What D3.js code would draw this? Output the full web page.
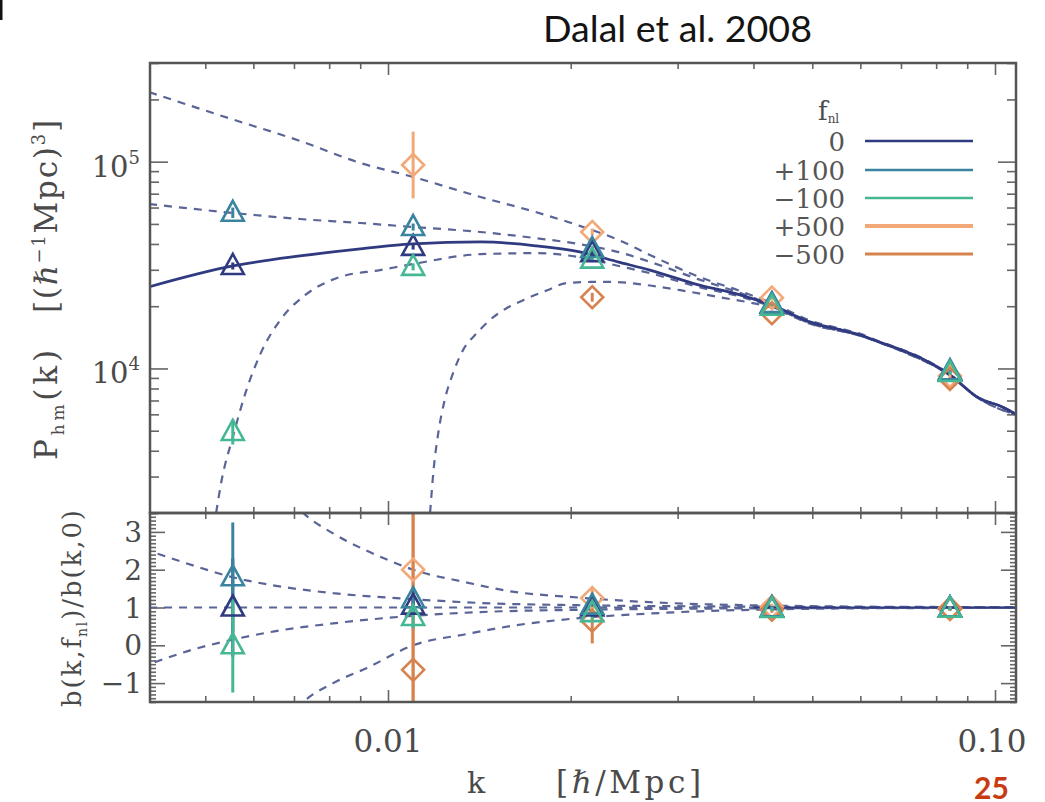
<!DOCTYPE html>
<html>
<head>
<meta charset="utf-8">
<script src="https://cdn.jsdelivr.net/npm/d3@7"></script>
<style>
  body { margin: 0; background: #fff; }
  svg { display: block; }
</style>
</head>
<body>
<div class="chart"></div>
<script>
// ---- data ----
const kBins = [0.00555, 0.0110, 0.0217, 0.0429, 0.0843];
const fnlLabels = ['0', '+100', '\u2212100', '+500', '\u2212500'];

// measured P_hm(k) per f_NL (null = off the plot)
const pkF0   = [31300, 38700, 36100, 20300, 9600];
const pkP100 = [56600, 48300, 37800, 20500, 9700];
const pkM100 = [4930, 31000, 33600, 19900, 9500];
const pkP500 = [null, 96400, 45700, 22000, 9200];
const pkM500 = [null, null, 22100, 18500, 8900];
// multiplicative error factors
const pkErrF0   = [1.04, 1.03, 1.03, 1.02, 1.02];
const pkErrP100 = [1.06, 1.04, 1.03, 1.02, 1.02];
const pkErrM100 = [1.15, 1.04, 1.03, 1.02, 1.02];
const pkErrP500 = [null, 1.45, 1.04, 1.03, 1.02];
const pkErrM500 = [null, null, 1.05, 1.03, 1.02];

// bias ratio b(k,f)/b(k,0)
const bF0   = [1.0, 1.05, 1.0, 0.98, 0.98];
const bP100 = [1.8, 1.22, 1.05, 0.98, 0.97];
const bM100 = [0.0, 0.75, 0.85, 0.96, 0.97];
const bP500 = [null, 2.0, 1.25, 1.02, 0.98];
const bM500 = [null, -0.65, 0.65, 0.94, 0.96];
const bErrF0   = [1.3, 0.25, 0.12, 0.05, 0.04];
const bErrP100 = [1.45, 0.3, 0.15, 0.05, 0.04];
const bErrM100 = [1.25, 0.3, 0.15, 0.05, 0.04];
const bErrP500 = [null, 4.5, 0.25, 0.08, 0.05];
const bErrM500 = [null, 4.5, 0.6, 0.08, 0.05];

// model curves
const kModel = [0.00404, 0.00555, 0.00716, 0.0090, 0.0110, 0.0142, 0.0175, 0.0207, 0.0240, 0.0270, 0.0326, 0.0380,
  0.0429, 0.0500, 0.0560, 0.0600, 0.0645, 0.0700, 0.0760, 0.0843, 0.0940, 0.1030, 0.1090];
const pkModelF0 = [24800, 31300, 35000, 37900, 40000, 40900, 39200, 36600, 32700, 29900, 25300, 22700,
  20200, 16600, 15300, 14500, 13400, 12300, 11100, 9300, 7190, 6500, 5940];
const pkModelP500 = [217000, 160000, 126000, 98600, 84300, 67500, 57100, 48900, 41800, 35400, 27700, 23700,
  20700, 16900, 15500, 14700, 13500, 12400, 11200, 9350, 7220, 6520, 5960];
const pkModelP100 = [62400, 56500, 52800, 50500, 48300, 45700, 42700, 39900, 36500, 32800, 26900, 23200,
  20300, 16700, 15350, 14550, 13350, 12300, 11100, 9300, 7190, 6500, 5940];
const kModelM100 = [0.00521, 0.00532, 0.00555, 0.00581, 0.00615, 0.00664, 0.0073, 0.00834, 0.0097, 0.0110, 0.0142,
  0.0175, 0.0207, 0.0240, 0.0270, 0.0326, 0.0380, 0.0429, 0.0500, 0.0600, 0.0700, 0.0843, 0.0940, 0.1090];
const pkModelM100 = [2000, 2880, 4650, 7450, 11600, 17100, 22600, 27700, 29900, 32000, 35700,
  36100, 34500, 31300, 28900, 24700, 22300, 19900, 16400, 14400, 12200, 9250, 7170, 5930];
const kModelM500 = [0.01173, 0.0119, 0.0121, 0.0124, 0.0128, 0.0133, 0.0140, 0.0147, 0.0157, 0.0167, 0.0183, 0.0197,
  0.0217, 0.0235, 0.0267, 0.0303, 0.0352, 0.0429, 0.0500, 0.0600, 0.0700, 0.0843, 0.0940, 0.1090];
const pkModelM500 = [2000, 3330, 4870, 7040, 9500, 12300, 14800, 17100, 19600, 21400, 23900, 25900,
  26200, 26200, 25300, 23900, 22100, 19600, 16300, 14400, 12150, 9250, 7170, 5930];

const kRatioP500 = [0.00700, 0.00725, 0.00812, 0.00923, 0.0102, 0.0110, 0.0135, 0.0156, 0.0207, 0.0270, 0.0326, 0.0429, 0.0645, 0.1090];
const bModelP500 = [3.75, 3.5, 2.96, 2.5, 2.2, 2.0, 1.66, 1.45, 1.26, 1.14, 1.09, 1.05, 1.02, 1.01];
const kRatio100 = [0.00404, 0.0048, 0.00555, 0.0065, 0.00812, 0.0110, 0.0142, 0.0207, 0.0326, 0.0645, 0.1090];
const bModelP100 = [2.5, 2.1, 1.8, 1.58, 1.38, 1.22, 1.12, 1.06, 1.03, 1.01, 1.0];
const bModelM100 = [-0.5, -0.1, 0.15, 0.37, 0.58, 0.78, 0.88, 0.94, 0.97, 0.99, 1.0];
const kRatioM500 = [0.00700, 0.00725, 0.00812, 0.00923, 0.0110, 0.0135, 0.0161, 0.0207, 0.0270, 0.0326, 0.0429, 0.0645, 0.1090];
const bModelM500 = [-1.75, -1.5, -1.0, -0.6, 0.0, 0.3, 0.52, 0.72, 0.84, 0.9, 0.95, 0.98, 0.99];
const kRatioF0 = [0.00404, 0.1090];
const bModelF0 = [1, 1];
const kRatioF0Solid = [0.040, 0.1090];

// ---- layout ----
const frameLeft = 150, frameRight = 1016;
const topY = 63, splitY = 513, bottomY = 702;

const navy = '#2f3a80', teal = '#3b84a0', green = '#45b795';
const lightOrange = '#f3a878', darkOrange = '#d7834f';
const dashColor = '#5a6496', frameColor = '#555', textColor = '#4a4a4a';
const serif = '"DejaVu Serif", "Liberation Serif", serif';

const series = [
  { label: fnlLabels[3], color: lightOrange, shape: 'diamond', pk: pkP500, pkErr: pkErrP500, b: bP500, bErr: bErrP500, lw: 4 },
  { label: fnlLabels[4], color: darkOrange, shape: 'diamond', pk: pkM500, pkErr: pkErrM500, b: bM500, bErr: bErrM500, lw: 3 },
  { label: fnlLabels[0], color: navy, shape: 'triangle', pk: pkF0, pkErr: pkErrF0, b: bF0, bErr: bErrF0, lw: 2.5 },
  { label: fnlLabels[1], color: teal, shape: 'triangle', pk: pkP100, pkErr: pkErrP100, b: bP100, bErr: bErrP100, lw: 2.5 },
  { label: fnlLabels[2], color: green, shape: 'triangle', pk: pkM100, pkErr: pkErrM100, b: bM100, bErr: bErrM100, lw: 2.5 }
];

const svg = d3.select('.chart').append('svg')
  .attr('width', 1045)
  .attr('height', 802);

// scales: 0.01 -> 388px, 0.1 -> 995px, frame spans a bit more
const xAnchor = d3.scaleLog().domain([0.01, 0.1]).range([388, 995]);
const x = d3.scaleLog()
  .domain([xAnchor.invert(frameLeft), xAnchor.invert(frameRight)])
  .range([frameLeft, frameRight]);
const yTop = d3.scaleLog().domain([2000, 3e5]).range([splitY, topY]);
const yBot = d3.scaleLinear().domain([-1.5, 3.5]).range([bottomY, splitY]);

// clip paths
const defs = svg.append('defs');
defs.append('clipPath').attr('id', 'clipTop').append('rect')
  .attr('x', frameLeft).attr('y', topY).attr('width', frameRight - frameLeft).attr('height', splitY - topY);
defs.append('clipPath').attr('id', 'clipBot').append('rect')
  .attr('x', frameLeft).attr('y', splitY).attr('width', frameRight - frameLeft).attr('height', bottomY - splitY);

// ---- ticks ----
function tickAxis(axis, transform, vals, size) {
  const g = svg.append('g').attr('transform', transform);
  g.call(axis.tickValues(vals).tickSize(size).tickFormat(''));
  g.select('.domain').remove();
  g.selectAll('line').attr('stroke', '#666').attr('stroke-width', 1.6);
  return g;
}

const xMajor = [0.01, 0.1];
const xMinor = x.ticks().filter(v => !xMajor.some(m => Math.abs(m - v) < 1e-9));
const yTopMajor = [1e4, 1e5];
const yTopMinor = yTop.ticks().filter(v => !yTopMajor.includes(v));
const yBotMajor = [-1, 0, 1, 2, 3];
const yBotMinor = yBot.ticks(50).filter(v => Math.abs(v - Math.round(v)) > 1e-6);

[[xMajor, 12], [xMinor, 6]].forEach(([vals, s]) => {
  tickAxis(d3.axisBottom(x), `translate(0,${topY})`, vals, s);
  tickAxis(d3.axisTop(x), `translate(0,${splitY})`, vals, s);
  tickAxis(d3.axisBottom(x), `translate(0,${splitY})`, vals, s);
  tickAxis(d3.axisTop(x), `translate(0,${bottomY})`, vals, s);
});
[[yTopMajor, 18], [yTopMinor, 9]].forEach(([vals, s]) => {
  tickAxis(d3.axisRight(yTop), `translate(${frameLeft},0)`, vals, s);
  tickAxis(d3.axisLeft(yTop), `translate(${frameRight},0)`, vals, s);
});
[[yBotMajor, 15], [yBotMinor, 6]].forEach(([vals, s]) => {
  tickAxis(d3.axisRight(yBot), `translate(${frameLeft},0)`, vals, s);
  tickAxis(d3.axisLeft(yBot), `translate(${frameRight},0)`, vals, s);
});

// ---- model curves ----
const lineTop = d3.line().x(d => x(d[0])).y(d => yTop(d[1])).curve(d3.curveMonotoneX);
const lineBot = d3.line().x(d => x(d[0])).y(d => yBot(d[1])).curve(d3.curveMonotoneX);

const gTop = svg.append('g').attr('clip-path', 'url(#clipTop)');
const gBot = svg.append('g').attr('clip-path', 'url(#clipBot)');

const dashedTop = [
  [kModel, pkModelP500], [kModel, pkModelP100], [kModelM100, pkModelM100], [kModelM500, pkModelM500]
];
dashedTop.forEach(([ks, vs]) => {
  gTop.append('path')
    .datum(d3.zip(ks, vs))
    .attr('d', lineTop)
    .attr('fill', 'none')
    .attr('stroke', dashColor)
    .attr('stroke-width', 2.2)
    .attr('stroke-dasharray', '8,7');
});
gTop.append('path')
  .datum(d3.zip(kModel, pkModelF0))
  .attr('d', lineTop)
  .attr('fill', 'none')
  .attr('stroke', navy)
  .attr('stroke-width', 2.8);

const dashedBot = [
  [kRatioF0, bModelF0], [kRatioP500, bModelP500], [kRatio100, bModelP100], [kRatio100, bModelM100], [kRatioM500, bModelM500]
];
dashedBot.forEach(([ks, vs], i) => {
  gBot.append('path')
    .datum(d3.zip(ks, vs))
    .attr('d', lineBot)
    .attr('fill', 'none')
    .attr('stroke', dashColor)
    .attr('stroke-width', 2.2)
    .attr('stroke-dasharray', '8,7')
    .attr('stroke-dashoffset', i * 3);
});
gBot.append('path')
  .datum(kRatioF0Solid.map(k => [k, 1]))
  .attr('d', lineBot)
  .attr('fill', 'none')
  .attr('stroke', navy)
  .attr('stroke-width', 2.2);

// ---- points ----
const shapes = {
  triangle: 'M0,-12L11,8L-11,8Z',
  diamond: 'M0,-11L11,0L0,11L-11,0Z'
};

series.forEach(s => {
  kBins.forEach((k, i) => {
    if (s.pk[i] != null) {
      const f = s.pkErr[i];
      gTop.append('line')
        .attr('x1', x(k)).attr('x2', x(k))
        .attr('y1', yTop(s.pk[i] / f)).attr('y2', yTop(s.pk[i] * f))
        .attr('stroke', s.color).attr('stroke-width', 3);
    }
    if (s.b[i] != null) {
      gBot.append('line')
        .attr('x1', x(k)).attr('x2', x(k))
        .attr('y1', yBot(s.b[i] - s.bErr[i])).attr('y2', yBot(s.b[i] + s.bErr[i]))
        .attr('stroke', s.color).attr('stroke-width', 3);
    }
  });
});
series.forEach(s => {
  kBins.forEach((k, i) => {
    if (s.pk[i] != null) {
      gTop.append('path')
        .attr('d', shapes[s.shape])
        .attr('transform', `translate(${x(k)},${yTop(s.pk[i])})`)
        .attr('fill', 'none').attr('stroke', s.color).attr('stroke-width', 2.6);
    }
    if (s.b[i] != null) {
      gBot.append('path')
        .attr('d', shapes[s.shape])
        .attr('transform', `translate(${x(k)},${yBot(s.b[i])})`)
        .attr('fill', 'none').attr('stroke', s.color).attr('stroke-width', 2.6);
    }
  });
});

// ---- frames ----
[[topY, splitY], [splitY, bottomY]].forEach(([a, b]) => {
  svg.append('rect')
    .attr('x', frameLeft).attr('y', a)
    .attr('width', frameRight - frameLeft).attr('height', b - a)
    .attr('fill', 'none').attr('stroke', frameColor).attr('stroke-width', 2.5);
});

// ---- tick labels ----
yTopMajor.forEach(v => {
  const t = svg.append('text')
    .attr('x', 140).attr('y', yTop(v) + 15)
    .attr('text-anchor', 'end')
    .attr('font-family', serif).attr('font-size', 29).attr('fill', textColor);
  t.append('tspan').text('10');
  t.append('tspan').attr('dy', -13).attr('font-size', 18).text(Math.round(Math.log10(v)));
});
yBotMajor.forEach(v => {
  svg.append('text')
    .attr('x', 142).attr('y', yBot(v) + 10)
    .attr('text-anchor', 'end')
    .attr('font-family', serif).attr('font-size', 28).attr('fill', textColor)
    .text(v < 0 ? '\u2212' + Math.abs(v) : v);
});
const xTickLabels = ['0.01', '0.10'];
xMajor.forEach((v, i) => {
  svg.append('text')
    .attr('x', x(v) - (i === 1 ? 3 : 0)).attr('y', 752)
    .attr('text-anchor', 'middle')
    .attr('font-family', serif).attr('font-size', 31).attr('fill', textColor)
    .text(xTickLabels[i]);
});

// ---- axis titles ----
svg.append('text')
  .attr('x', 467).attr('y', 793)
  .attr('font-family', serif).attr('font-size', 30).attr('fill', textColor)
  .text('k');
svg.append('text')
  .attr('x', 556).attr('y', 793)
  .attr('font-family', serif).attr('font-size', 31).attr('fill', textColor)
  .attr('textLength', 145).attr('lengthAdjust', 'spacing')
  .text('[\u210F/Mpc]');

const yl1 = svg.append('text')
  .attr('transform', 'translate(57,460) rotate(-90)')
  .attr('font-family', serif).attr('font-size', 31).attr('fill', textColor)
  .attr('textLength', 110).attr('lengthAdjust', 'spacing');
yl1.append('tspan').text('P');
yl1.append('tspan').attr('font-size', 17).attr('dy', 7).text('hm');
yl1.append('tspan').attr('dy', -7).text('(k)');

const yl2 = svg.append('text')
  .attr('transform', 'translate(57,313) rotate(-90)')
  .attr('font-family', serif).attr('font-size', 31).attr('fill', textColor)
  .attr('textLength', 193).attr('lengthAdjust', 'spacing');
yl2.append('tspan').text('[(');
yl2.append('tspan').attr('font-style', 'italic').text('\u210F');
yl2.append('tspan').attr('font-size', 18).attr('dy', -12).text('\u22121');
yl2.append('tspan').attr('dy', 12).text('Mpc)');
yl2.append('tspan').attr('font-size', 18).attr('dy', -12).text('3');
yl2.append('tspan').attr('dy', 12).text(']');

const yl3 = svg.append('text')
  .attr('transform', 'translate(81,707) rotate(-90)')
  .attr('font-family', serif).attr('font-size', 26).attr('fill', textColor)
  .attr('textLength', 197).attr('lengthAdjust', 'spacing');
yl3.append('tspan').text('b(k,f');
yl3.append('tspan').attr('font-size', 14).attr('dy', 6).text('nl');
yl3.append('tspan').attr('dy', -6).text(')/b(k,0)');

// ---- legend ----
const legendY = [141, 170, 198, 226, 254];
const legendOrder = [2, 3, 4, 0, 1];
const fl = svg.append('text')
  .attr('x', 818).attr('y', 120)
  .attr('font-family', serif).attr('font-size', 26).attr('fill', textColor);
fl.append('tspan').text('f');
fl.append('tspan').attr('font-size', 12).attr('dy', 3).text('nl');
legendOrder.forEach((si, j) => {
  const s = series[si];
  svg.append('text')
    .attr('x', 845).attr('y', legendY[j] + 10)
    .attr('text-anchor', 'end')
    .attr('font-family', serif).attr('font-size', 26).attr('fill', '#555')
    .text(s.label);
  svg.append('line')
    .attr('x1', 865).attr('x2', 973)
    .attr('y1', legendY[j]).attr('y2', legendY[j])
    .attr('stroke', s.color).attr('stroke-width', s.lw);
});

// ---- slide text ----
svg.append('text')
  .attr('x', 543).attr('y', 42)
  .attr('font-family', 'Lato, "Open Sans", sans-serif').attr('font-size', 36).attr('fill', '#141414')
  .attr('textLength', 269).attr('lengthAdjust', 'spacingAndGlyphs')
  .text('Dalal et al. 2008');
svg.append('text')
  .attr('x', 974).attr('y', 799)
  .attr('font-family', 'Lato, "Open Sans", sans-serif').attr('font-weight', 'bold')
  .attr('font-size', 30).attr('fill', '#c83a10')
  .text('25');
svg.append('rect').attr('x', 0).attr('y', 0).attr('width', 2.5).attr('height', 20).attr('fill', '#111');
</script>
</body>
</html>
